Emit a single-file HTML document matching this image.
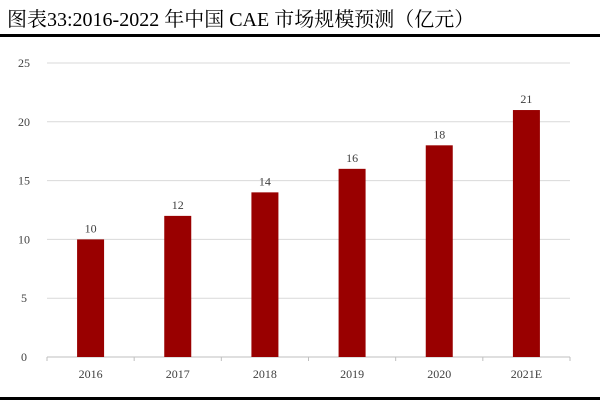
<!DOCTYPE html>
<html><head><meta charset="utf-8"><style>
body{margin:0;background:#fff}
#wrap{position:relative;width:600px;height:400px;overflow:hidden;background:#fff}
#title{position:absolute;left:7px;top:3px;font:20px "Liberation Serif","Noto Serif CJK SC",serif;color:#000;white-space:nowrap}
#rule-top{position:absolute;left:0;top:34px;width:600px;height:3px;background:#000}
#rule-bot{position:absolute;left:0;top:397px;width:600px;height:3px;background:#000}
svg{position:absolute;left:0;top:0}
text{font-family:"Liberation Serif",serif;font-size:12px;fill:#404040}
</style></head><body>
<div id="wrap">
<div id="title">图表33:2016-2022 年中国 CAE 市场规模预测（亿元）</div>
<div id="rule-top"></div>
<div id="rule-bot"></div>
<svg id="chart" width="600" height="400"></svg>
</div>
<script>
const categories=["2016","2017","2018","2019","2020","2021E"];
const values=[10,12,14,16,18,21];
const yTicks=[0,5,10,15,20,25];
const svg=document.getElementById('chart');
const NS='http://www.w3.org/2000/svg';
const x0=47,x1=570,y0=357,yTop=63,yMax=25;
const band=(x1-x0)/categories.length;
const xC=i=>x0+band*(i+0.5);
const yS=v=>y0-(v/yMax)*(y0-yTop);
function mk(t,a){const e=document.createElementNS(NS,t);for(const k in a)e.setAttribute(k,a[k]);svg.appendChild(e);return e;}
yTicks.forEach(t=>{
  if(t>0){const g=mk('line',{x1:x0,x2:x1,y1:yS(t),y2:yS(t),stroke:'#d9d9d9','stroke-width':1});
  
  }
  const l=mk('text',{x:24,y:yS(t)+4,'text-anchor':'middle'});l.textContent=t;
  
  
});
const ax=mk('line',{x1:x0,x2:x1,y1:y0,y2:y0,stroke:'#bfbfbf','stroke-width':1});


for(let i=0;i<=categories.length;i++){
  const tk=mk('line',{x1:x0+band*i,x2:x0+band*i,y1:y0,y2:y0+4,stroke:'#bfbfbf'});
  
  
}
categories.forEach((c,i)=>{
  const w=27;
  const b=mk('rect',{x:xC(i)-w/2,y:yS(values[i]),width:w,height:y0-yS(values[i]),fill:'#990000'});
  
  
  const v=mk('text',{x:xC(i),y:yS(values[i])-7,'text-anchor':'middle'});v.textContent=values[i];
  
  
  const l=mk('text',{x:xC(i),y:y0+21,'text-anchor':'middle'});l.textContent=c;
  
  
});
</script>
</body></html>
